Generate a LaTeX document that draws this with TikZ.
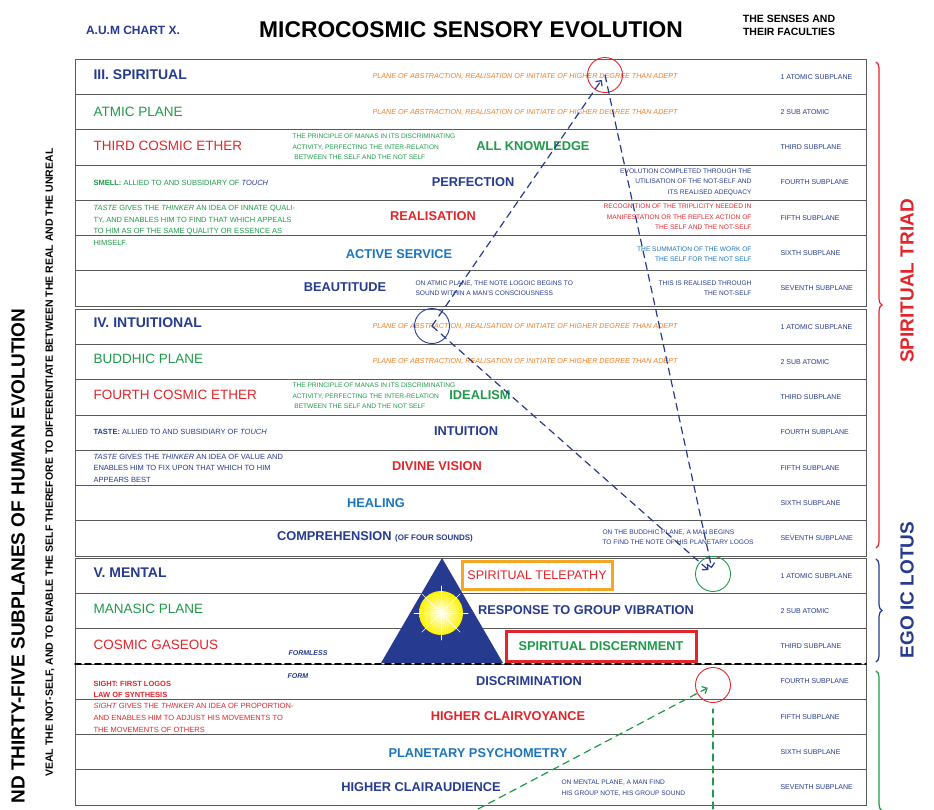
\documentclass[tikz,border=0pt]{standalone}
\usepackage{fontspec}
\setmainfont{Liberation Sans}
\usetikzlibrary{arrows.meta}
\usetikzlibrary{decorations.pathreplacing}
\definecolor{navy}{HTML}{263A8F}
\definecolor{grn}{HTML}{1E9A48}
\definecolor{rd}{HTML}{E2252B}
\definecolor{orng}{HTML}{F07E26}
\definecolor{mblue}{HTML}{1B75BC}
\definecolor{gold}{HTML}{F5A623}
\tikzset{
  lab/.style={anchor=west, font=\fontsize{13.5}{13.5}\selectfont},
  key/.style={font=\bfseries\fontsize{12.8}{12.8}\selectfont},
  sub/.style={anchor=west, font=\fontsize{7}{7}\selectfont, navy},
  note/.style={align=left, font=\fontsize{6.6}{10.5}\selectfont},
  abst/.style={font=\itshape\fontsize{7.2}{7}\selectfont, orng},
  ring/.style={circle, draw, line width=0.9pt, minimum size=35},
  link/.style={dashed, line width=1.2pt, dash pattern=on 7pt off 5pt, -{Straight Barb[length=4pt]}, shorten >=6pt},
}
\begin{document}
\begin{tikzpicture}[x=1pt, y=-1pt, line cap=round]
    \useasboundingbox (0,0) rectangle (934,809);
    % titles
    \node[font=\bfseries\fontsize{12}{12}\selectfont, navy] (chart) at (133,30) {A.U.M CHART X.};
    \node[font=\bfseries\fontsize{22.8}{22.8}\selectfont] (title) at (471,30) {MICROCOSMIC SENSORY EVOLUTION};
    \node[font=\bfseries\fontsize{10.5}{13}\selectfont, align=center] (senses) at (789,25) {THE SENSES AND\\THEIR FACULTIES};

    % table grid
    \foreach \T in {59,309,558}{
      \foreach \i in {0,...,6}
        \draw[gray!70!black, line width=0.8pt] (75,{\T+\i*35.3}) rectangle (866,{\T+(\i+1)*35.3});
      \foreach \i/\s in {1/1 ATOMIC SUBPLANE, 2/2 SUB ATOMIC, 3/THIRD SUBPLANE, 4/FOURTH SUBPLANE,
                         5/FIFTH SUBPLANE, 6/SIXTH SUBPLANE, 7/SEVENTH SUBPLANE}
        \node[sub] at (777,{\T+(\i-0.5)*35.3}) {\s};
    }

    % III. spiritual
    \node[lab, navy, font=\bfseries\fontsize{14}{14}\selectfont] (spir) at (90,75) {III. SPIRITUAL};
    \node[abst] (abs1) at (525,76) {PLANE OF ABSTRACTION, REALISATION OF INITIATE OF HIGHER DEGREE THAN ADEPT};
    \node[lab, grn] (atmic) at (90,112) {ATMIC PLANE};
    \node[abst] (abs2) at (525,112) {PLANE OF ABSTRACTION, REALISATION OF INITIATE OF HIGHER DEGREE THAN ADEPT};
    \node[lab, rd] (tce) at (90,146) {THIRD COSMIC ETHER};
    \node[note, grn, anchor=west] (man1) at (289,147) {THE PRINCIPLE OF MANAS IN ITS DISCRIMINATING\\ACTIVITY, PERFECTING THE INTER-RELATION\\\ BETWEEN THE SELF AND THE NOT SELF};
    \node[key, grn] (allk) at (533,146) {ALL KNOWLEDGE};
    \node[note, grn, anchor=west, font=\fontsize{7.5}{9}\selectfont] (smell) at (90,183) {\textbf{SMELL:} ALLIED TO AND SUBSIDIARY OF \textcolor{navy}{\itshape TOUCH}};
    \node[key, navy] (perf) at (473,182) {PERFECTION};
    \node[note, navy, align=right, anchor=east] (evol) at (755,182) {EVOLUTION COMPLETED THROUGH THE\\UTILISATION OF THE NOT-SELF AND\\ITS REALISED ADEQUACY};
    \node[note, grn, anchor=north west, font=\fontsize{7.5}{11.5}\selectfont] (taste1) at (90,202) {\textit{TASTE} GIVES THE \textit{THINKER} AN IDEA OF INNATE QUALI-\\TY, AND ENABLES HIM TO FIND THAT WHICH APPEALS\\TO HIM AS OF THE SAME QUALITY OR ESSENCE AS\\HIMSELF.};
    \node[key, rd] (real) at (433,216) {REALISATION};
    \node[note, rd, align=right, anchor=east] (recog) at (755,217) {RECOGNITION OF THE TRIPLICITY NEEDED IN\\MANIFESTATION OR THE REFLEX ACTION OF\\THE SELF AND THE NOT-SELF};
    \node[key, mblue] (act) at (399,254) {ACTIVE SERVICE};
    \node[note, mblue, align=right, anchor=east] (summ) at (755,254) {THE SUMMATION OF THE WORK OF\\THE SELF FOR THE NOT SELF};
    \node[key, navy] (beau) at (345,287) {BEAUTITUDE};
    \node[note, navy, anchor=west] (logoic) at (412,288) {ON ATMIC PLANE, THE NOTE LOGOIC BEGINS TO\\SOUND WITHIN A MAN'S CONSCIOUSNESS};
    \node[note, navy, align=right, anchor=east] (realthr) at (755,288) {THIS IS REALISED THROUGH\\THE NOT-SELF};

    % IV. intuitional
    \node[lab, navy, font=\bfseries\fontsize{14}{14}\selectfont] (intu) at (90,323) {IV. INTUITIONAL};
    \node[abst] (abs3) at (525,326) {PLANE OF ABSTRACTION, REALISATION OF INITIATE OF HIGHER DEGREE THAN ADEPT};
    \node[lab, grn] (budd) at (90,359) {BUDDHIC PLANE};
    \node[abst] (abs4) at (525,361) {PLANE OF ABSTRACTION, REALISATION OF INITIATE OF HIGHER DEGREE THAN ADEPT};
    \node[lab, rd] (fce) at (90,395) {FOURTH COSMIC ETHER};
    \node[note, grn, anchor=west] (man2) at (289,396) {THE PRINCIPLE OF MANAS IN ITS DISCRIMINATING\\ACTIVITY, PERFECTING THE INTER-RELATION\\\ BETWEEN THE SELF AND THE NOT SELF};
    \node[key, grn] (ideal) at (480,395) {IDEALISM};
    \node[note, navy, anchor=west, font=\fontsize{7.5}{9}\selectfont] (taste2) at (90,432) {\textbf{TASTE:} ALLIED TO AND SUBSIDIARY OF \textit{TOUCH}};
    \node[key, navy] (intn) at (466,431) {INTUITION};
    \node[note, navy, anchor=west, font=\fontsize{7.5}{11.5}\selectfont] (taste3) at (90,468) {\textit{TASTE} GIVES THE \textit{THINKER} AN IDEA OF VALUE AND\\ENABLES HIM TO FIX UPON THAT WHICH TO HIM\\APPEARS BEST};
    \node[key, rd] (divv) at (437,466) {DIVINE VISION};
    \node[key, mblue] (heal) at (376,503) {HEALING};
    \node[key, navy] (comp) at (375,537) {COMPREHENSION {\fontsize{8}{8}\selectfont (OF FOUR SOUNDS)}};
    \node[note, navy, anchor=west] (buddn) at (599,537) {ON THE BUDDHIC PLANE, A MAN BEGINS\\TO FIND THE NOTE OF HIS PLANETARY LOGOS};

    % V. mental
    \fill[navy] (442,558) -- (503,663) -- (381,663) -- cycle;
    \shade[inner color=white, outer color=yellow!90!orange] (441,613) circle (22);
    \foreach \a in {0,45,...,315}
      \draw[white, line width=0.6pt] (441,613) -- ++(\a:27);
    \node[lab, navy, font=\bfseries\fontsize{14}{14}\selectfont] (ment) at (90,573) {V. MENTAL};
    \node[key, rd, font=\fontsize{12.5}{12.5}\selectfont, draw=gold, line width=3pt, fill=white, minimum width=150, minimum height=28] (tele) at (537,575) {SPIRITUAL TELEPATHY};
    \node[lab, grn] (mana) at (90,609) {MANASIC PLANE};
    \node[key, navy] (resp) at (586,610) {RESPONSE TO GROUP VIBRATION};
    \node[lab, rd] (gas) at (90,645) {COSMIC GASEOUS};
    \node[font=\bfseries\itshape\fontsize{7}{7}\selectfont, navy] (forml) at (308,653) {FORMLESS};
    \node[key, grn, draw=rd, line width=3pt, fill=white, minimum width=190, minimum height=30] (disc) at (601,646) {SPIRITUAL DISCERNMENT};
    \draw[line width=1.8pt, dash pattern=on 6pt off 4pt] (75,664) -- (866,664);
    \node[font=\bfseries\itshape\fontsize{7}{7}\selectfont, navy] (form) at (298,676) {FORM};
    \node[note, rd, anchor=west, font=\bfseries\fontsize{7.5}{11}\selectfont] (sight) at (90,689) {SIGHT: FIRST LOGOS\\LAW OF SYNTHESIS};
    \node[key, navy] (discr) at (529,681) {DISCRIMINATION};
    \node[note, rd, anchor=west, font=\fontsize{7.5}{12}\selectfont] (sight2) at (90,718) {\textit{SIGHT} GIVES THE \textit{THINKER} AN IDEA OF PROPORTION-\\AND ENABLES HIM TO ADJUST HIS MOVEMENTS TO\\THE MOVEMENTS OF OTHERS};
    \node[key, rd] (clairv) at (508,716) {HIGHER CLAIRVOYANCE};
    \node[key, mblue] (psych) at (478,753) {PLANETARY PSYCHOMETRY};
    \node[key, navy] (claira) at (421,787) {HIGHER CLAIRAUDIENCE};
    \node[note, navy, anchor=west] (mentn) at (558,788) {ON MENTAL PLANE, A MAN FIND\\HIS GROUP NOTE, HIS GROUP SOUND};

    % circles and dashed links
    \node[ring, rd] (cA) at (605,75) {};
    \node[ring, navy] (cB) at (432,326) {};
    \node[ring, grn] (cG) at (713,574) {};
    \node[ring, rd] (cR) at (713,685) {};
    \coordinate (gL) at (478,809);
    \coordinate (gV) at (713,809);
    \draw[link, navy] (cB.center) -- (cA.center);
    \draw[link, navy] (cA.center) -- (cG.center);
    \draw[link, navy] (cB.center) -- (cG.center);
    \draw[link, grn] (gL) -- (cR.center);
    \draw[link, grn, -] (gV) -- (cR.south);

    % braces
    \draw[rd, line width=1.2pt, decorate, decoration={brace, amplitude=6pt}] (876,62) -- (876,548);
    \draw[navy, line width=1.2pt, decorate, decoration={brace, amplitude=6pt}] (876,559) -- (876,662);
    \draw[grn, line width=1.2pt, decorate, decoration={brace, amplitude=6pt}] (876,671) -- (876,950);
    \node[rotate=90, font=\bfseries\fontsize{19}{19}\selectfont, rd] (triad) at (907,281) {SPIRITUAL TRIAD};
    \node[rotate=90, font=\bfseries\fontsize{19}{19}\selectfont, navy] (lotus) at (907,590) {EGO IC LOTUS};

    % left side texts
    \node[rotate=90, anchor=east, font=\bfseries\fontsize{19}{19}\selectfont] (evo) at (18,305) {ND THIRTY-FIVE SUBPLANES OF HUMAN EVOLUTION};
    \node[rotate=90, anchor=east, font=\bfseries\fontsize{10.5}{10.5}\selectfont] (unreal) at (50,145) {VEAL THE NOT-SELF, AND TO ENABLE THE SELF THEREFORE TO DIFFERENTIATE BETWEEN THE REAL AND THE UNREAL};
\end{tikzpicture}
\end{document}
